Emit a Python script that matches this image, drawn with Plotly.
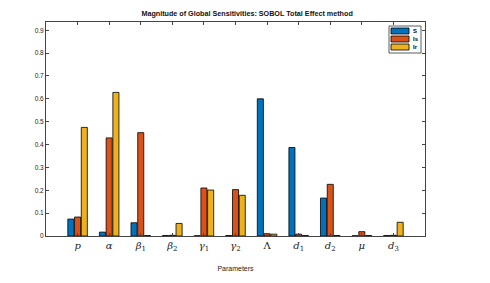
import plotly.graph_objects as go

params = ["<i>p</i>", "<i>α</i>", "<i>β</i><sub>1</sub>", "<i>β</i><sub>2</sub>", "<i>γ</i><sub>1</sub>",
          "<i>γ</i><sub>2</sub>", "Λ", "<i>d</i><sub>1</sub>", "<i>d</i><sub>2</sub>", "<i>μ</i>", "<i>d</i><sub>3</sub>"]
positions = list(range(1, 12))
S_vals = [0.074, 0.017, 0.058, 0.002, 0.001, 0.002, 0.600, 0.387, 0.166, 0.001, 0.002]
Is_vals = [0.083, 0.429, 0.452, 0.003, 0.210, 0.203, 0.010, 0.008, 0.226, 0.019, 0.003]
Ir_vals = [0.475, 0.628, 0.002, 0.055, 0.201, 0.178, 0.008, 0.002, 0.002, 0.002, 0.060]
y_ticks = [0, 0.1, 0.2, 0.3, 0.4, 0.5, 0.6, 0.7, 0.8, 0.9]
legend_names = ["S", "Is", "Ir"]
colors = ["#0072BD", "#D95319", "#EDB120"]

OFF = 8  # page body margin
W, H = 490 - OFF, 283 - OFF
# plot area in window pixels: x 46..425, y 22..236
L, T = 46 - OFF, 22 - OFF
R = W - (425 - OFF)
B = H - (236 - OFF)
pw, ph = W - L - R, H - T - B

def px(x):
    return (x - OFF - L) / pw

def py(y):
    return (H - B - (y - OFF)) / ph

fig = go.Figure()
for name, vals, col in zip(legend_names, [S_vals, Is_vals, Ir_vals], colors):
    fig.add_trace(go.Bar(x=positions, y=vals, name=name,
                         marker=dict(color=col, line=dict(color="#000", width=0.8))))

shapes = []
annotations = []
shapes.append(dict(type="rect", xref="paper", yref="paper", x0=px(389), x1=px(421), y0=py(53), y1=py(26),
                   line=dict(color="#333", width=0.8), fillcolor="white"))
for i, (name, col) in enumerate(zip(legend_names, colors)):
    yc = 31 + i * 8
    shapes.append(dict(type="rect", xref="paper", yref="paper", x0=px(391), x1=px(409), y0=py(yc + 3), y1=py(yc - 3),
                       line=dict(color="#000", width=0.8), fillcolor=col))
    annotations.append(dict(text="<b>" + name + "</b>", xref="paper", yref="paper", x=px(411), y=py(yc),
                            xanchor="left", yanchor="middle", showarrow=False, font=dict(size=6, color="#000")))

fig.update_layout(
    width=W, height=H,
    margin=dict(l=L, r=R, t=T, b=B, autoexpand=False),
    paper_bgcolor="white", plot_bgcolor="white",
    barmode="group", bargap=0.36, bargroupgap=0.1,
    font=dict(family="Liberation Sans, Arial", size=7, color="#222"),
    title=dict(text="<b>Magnitude of Global Sensitivities: SOBOL Total Effect method</b>",
               x=px(234), xanchor="center", y=1 - (13 - OFF) / H, yanchor="middle",
               font=dict(size=7.2, color="#111")),
    showlegend=False,
    shapes=shapes, annotations=annotations,
)
fig.update_xaxes(range=[0, 12], tickvals=positions, ticktext=params, showline=True, linecolor="#444",
                 linewidth=1, mirror="ticks", ticks="inside", ticklen=3, tickcolor="#444",
                 tickfont=dict(family="DejaVu Serif, Liberation Serif", size=10, color="#222"),
                 title=dict(text="Parameters", font=dict(size=7, color="#222"), standoff=14),
                 showgrid=False, automargin=False)
fig.update_yaxes(range=[0, 0.936], tickvals=y_ticks,
                 ticktext=["0", "0.1", "0.2", "0.3", "0.4", "0.5", "0.6", "0.7", "0.8", "0.9"],
                 showline=True, linecolor="#444", linewidth=1, mirror="ticks", ticks="inside", ticklen=3,
                 tickcolor="#444", showgrid=False, zeroline=False, tickfont=dict(size=6.5, color="#222"),
                 automargin=False)

fig.write_html("out.html")
